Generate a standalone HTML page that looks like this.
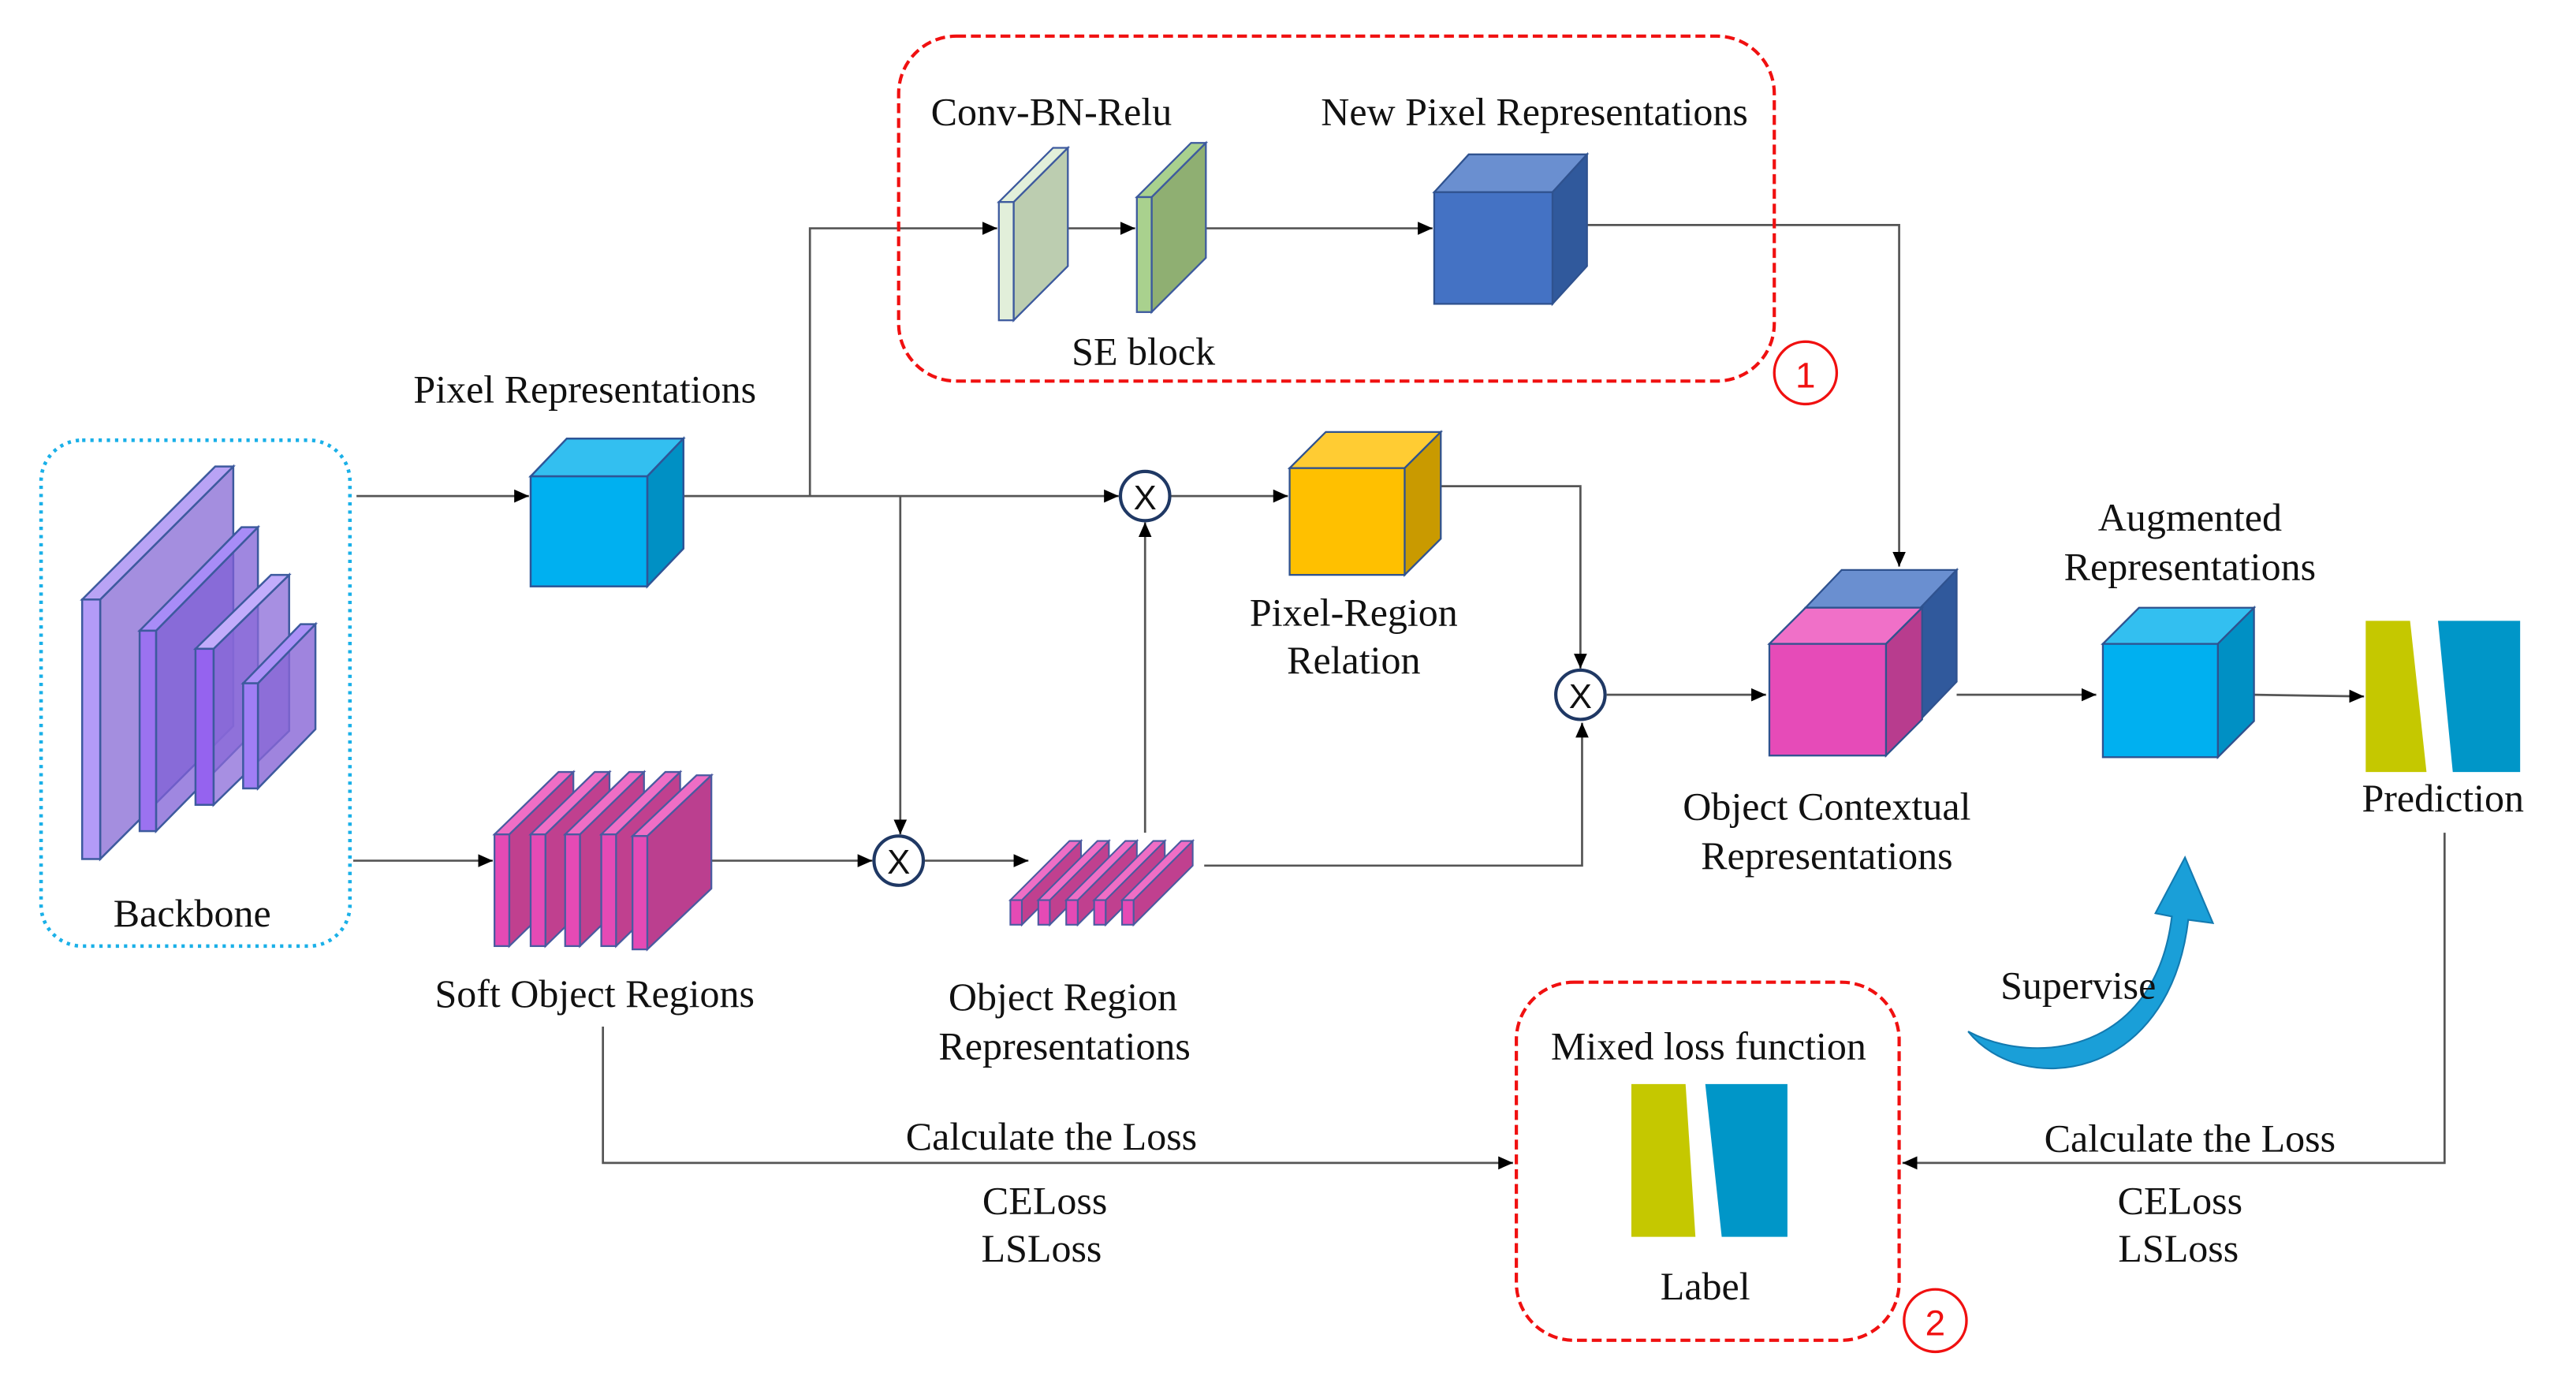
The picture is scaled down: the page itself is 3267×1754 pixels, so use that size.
<!DOCTYPE html>
<html><head><meta charset="utf-8"><style>
html,body{margin:0;padding:0;background:#fff}
svg{display:block}
.t{font-family:"Liberation Serif","DejaVu Serif",serif;font-size:24px;fill:#111}
</style></head><body>
<svg width="3267" height="1754" viewBox="0 0 1568 842" preserveAspectRatio="none" xmlns="http://www.w3.org/2000/svg">
<defs>
<marker id="a" markerWidth="10" markerHeight="10" refX="9" refY="5" orient="auto" markerUnits="userSpaceOnUse"><path d="M0,1 L9,5 L0,9 Z" fill="#000"/></marker>
</defs>
<g stroke="#555" stroke-width="1.3" fill="none">
<line x1="217" y1="302" x2="322" y2="302" marker-end="url(#a)"/>
<line x1="215" y1="524" x2="300" y2="524" marker-end="url(#a)"/>
<line x1="395" y1="302" x2="681" y2="302" marker-end="url(#a)"/>
<polyline points="493,302 493,139 607,139" marker-end="url(#a)"/>
<line x1="637" y1="139" x2="691" y2="139" marker-end="url(#a)"/>
<line x1="724" y1="139" x2="872" y2="139" marker-end="url(#a)"/>
<polyline points="966,137 1156,137 1156,345" marker-end="url(#a)"/>
<polyline points="548,302 548,508" marker-end="url(#a)"/>
<line x1="712" y1="302" x2="784" y2="302" marker-end="url(#a)"/>
<polyline points="877,296 962,296 962,407" marker-end="url(#a)"/>
<line x1="432" y1="524" x2="531" y2="524" marker-end="url(#a)"/>
<line x1="563" y1="524" x2="626" y2="524" marker-end="url(#a)"/>
<line x1="697" y1="507" x2="697" y2="318" marker-end="url(#a)"/>
<polyline points="733,527 963,527 963,440" marker-end="url(#a)"/>
<line x1="978" y1="423" x2="1075" y2="423" marker-end="url(#a)"/>
<line x1="1191" y1="423" x2="1276" y2="423" marker-end="url(#a)"/>
<line x1="1372" y1="423" x2="1439" y2="424" marker-end="url(#a)"/>
<polyline points="367,625 367,708 921,708" marker-end="url(#a)"/>
<polyline points="1488,507 1488,708 1158,708" marker-end="url(#a)"/>
</g>
<rect x="25" y="268" width="188" height="308" rx="25" fill="none" stroke="#1ab0e8" stroke-width="2.2" stroke-dasharray="2,3"/>
<rect x="547" y="22" width="533" height="210" rx="35" fill="none" stroke="#f01010" stroke-width="2" stroke-dasharray="6,3"/>
<rect x="923" y="598" width="233" height="218" rx="35" fill="none" stroke="#f01010" stroke-width="2" stroke-dasharray="6,3"/>
<circle cx="1099" cy="227" r="19" fill="none" stroke="#f01010" stroke-width="1.6"/>
<text x="1099" y="236" text-anchor="middle" font-family="Liberation Sans, sans-serif" font-size="22" fill="#f01010">1</text>
<circle cx="1178" cy="804" r="19" fill="none" stroke="#f01010" stroke-width="1.6"/>
<text x="1178" y="813" text-anchor="middle" font-family="Liberation Sans, sans-serif" font-size="22" fill="#f01010">2</text>
<g stroke="#3d5a9e" stroke-width="1.2">
<path d="M61,365 L142,284 L142,442 L61,523Z" fill="#9a82dc" fill-opacity="0.9"/>
<path d="M50,365 L131,284 L142,284 L61,365Z" fill="#b9a3f5"/>
<rect x="50" y="365" width="11" height="158" fill="#b39bf7"/>
<path d="M95,384 L157,321 L157,443 L95,506Z" fill="#7f5fd6" fill-opacity="0.75"/>
<path d="M85,384 L147,321 L157,321 L95,384Z" fill="#a88cf7"/>
<rect x="85" y="384" width="10" height="122" fill="#9b72f0"/>
<path d="M130,395 L176,350 L176,445 L130,490Z" fill="#8a6ad8" fill-opacity="0.75"/>
<path d="M119,395 L165,350 L176,350 L130,395Z" fill="#c2acfb"/>
<rect x="119" y="395" width="11" height="95" fill="#9563ef"/>
<path d="M157,416 L192,380 L192,444 L157,480Z" fill="#8765d6" fill-opacity="0.8"/>
<path d="M148,416 L183,380 L192,380 L157,416Z" fill="#ab90f7"/>
<rect x="148" y="416" width="9" height="64" fill="#a07ef5"/>
</g>
<g stroke="#2e5597" stroke-width="1.2">
<path d="M323,290 L345,267 L416,267 L394,290Z" fill="#33bff0"/>
<path d="M394,290 L416,267 L416,334 L394,357Z" fill="#0090c4"/>
<rect x="323" y="290" width="71" height="67" fill="#00b0f0"/>
</g>
<g stroke="#4a5aa0" stroke-width="1.1">
<g id="sp"><path d="M310,508 L349,470 L349,538 L310,576Z" fill="#c0408f"/><path d="M301,508 L340,470 L349,470 L310,508Z" fill="#ef6ec5"/><rect x="301" y="508" width="9" height="68" fill="#e54ab5"/></g>
<use href="#sp" x="22"/><use href="#sp" x="43"/><use href="#sp" x="65"/>
<path d="M394,509 L433,472 L433,541 L394,578Z" fill="#bb3f8f"/><path d="M385,509 L424,472 L433,472 L394,509Z" fill="#ef6ec5"/><rect x="385" y="509" width="9" height="69" fill="#e54ab5"/>
</g>
<g stroke="#3d5a9e" stroke-width="1.1">
<path d="M617,123 L650,90 L650,162 L617,195Z" fill="#bccdb0"/>
<path d="M608,123 L641,90 L650,90 L617,123Z" fill="#e2efda"/>
<rect x="608" y="123" width="9" height="72" fill="#e2efda"/>
<path d="M701,120 L734,87 L734,157 L701,190Z" fill="#8faf72"/>
<path d="M692,120 L725,87 L734,87 L701,120Z" fill="#a9d18e"/>
<rect x="692" y="120" width="9" height="70" fill="#a9d18e"/>
</g>
<g stroke="#2f528f" stroke-width="1.1">
<path d="M873,117 L894,94 L966,94 L945,117Z" fill="#6a8fd0"/>
<path d="M945,117 L966,94 L966,162 L945,185Z" fill="#30599c"/>
<rect x="873" y="117" width="72" height="68" fill="#4472c4"/>
<path d="M785,285 L807,263 L877,263 L855,285Z" fill="#ffcc33"/>
<path d="M855,285 L877,263 L877,328 L855,350Z" fill="#c99a00"/>
<rect x="785" y="285" width="70" height="65" fill="#ffc000"/>
<path d="M1099,370 L1121,347 L1191,347 L1169,370Z" fill="#6a8fd0"/>
<path d="M1169,370 L1191,347 L1191,415 L1169,438Z" fill="#30599c"/>
<rect x="1099" y="370" width="70" height="68" fill="#4472c4"/>
<path d="M1077,392 L1099,370 L1170,370 L1148,392Z" fill="#f070c8"/>
<path d="M1148,392 L1170,370 L1170,438 L1148,460Z" fill="#b83c8e"/>
<rect x="1077" y="392" width="71" height="68" fill="#e64bb8"/>
<path d="M1280,392 L1302,370 L1372,370 L1350,392Z" fill="#33bff0"/>
<path d="M1350,392 L1372,370 L1372,439 L1350,461Z" fill="#0090c4"/>
<rect x="1280" y="392" width="70" height="69" fill="#00b0f0"/>
</g>
<g stroke="#4a5aa0" stroke-width="1">
<g id="op"><path d="M622,548 L658,512 L658,527 L622,563Z" fill="#c0408f"/><path d="M615,548 L651,512 L658,512 L622,548Z" fill="#ef6ec5"/><rect x="615" y="548" width="7" height="15" fill="#e54ab5"/></g>
<use href="#op" x="17"/><use href="#op" x="34"/><use href="#op" x="51"/><use href="#op" x="68"/>
</g>
<path d="M1440,378 L1467,378 L1477,470 L1440,470Z" fill="#c5c800"/>
<path d="M1484,378 L1534,378 L1534,470 L1493,470Z" fill="#0096c8"/>
<path d="M993,660 L1026,660 L1032,753 L993,753Z" fill="#c5c800"/>
<path d="M1038,660 L1088,660 L1088,753 L1048,753Z" fill="#0096c8"/>
<g fill="#fff" stroke="#1f3864" stroke-width="2">
<circle cx="697" cy="302" r="15"/><circle cx="547" cy="524" r="15"/><circle cx="962" cy="423" r="15"/>
</g>
<g text-anchor="middle" font-family="Liberation Sans, sans-serif" font-size="21" fill="#111">
<text x="697" y="310">X</text>
<text x="547" y="532">X</text>
<text x="962" y="431">X</text>
</g>
<path d="M1198,628 C1230,668 1320,660 1332,560 L1347,562 L1330,522 L1312,556 L1322,558 C1312,640 1240,650 1198,628Z" fill="#1a9fd8" stroke="#137ab0" stroke-width="1"/>
<g text-anchor="middle" class="t" font-family="Liberation Serif, serif" font-size="24">
<text class="t" x="640" y="76">Conv-BN-Relu</text>
<text class="t" x="934" y="76">New Pixel Representations</text>
<text class="t" x="696" y="222">SE block</text>
<text class="t" x="356" y="245">Pixel Representations</text>
<text class="t" x="117" y="564">Backbone</text>
<text class="t" x="362" y="613">Soft Object Regions</text>
<text class="t" x="824" y="381">Pixel-Region</text>
<text class="t" x="824" y="410">Relation</text>
<text class="t" x="647" y="615">Object Region</text>
<text class="t" x="648" y="645">Representations</text>
<text class="t" x="1112" y="499">Object Contextual</text>
<text class="t" x="1112" y="529">Representations</text>
<text class="t" x="1333" y="323">Augmented</text>
<text class="t" x="1333" y="353">Representations</text>
<text class="t" x="1487" y="494">Prediction</text>
<text class="t" x="1265" y="608">Supervise</text>
<text class="t" x="1040" y="645">Mixed loss function</text>
<text class="t" x="1038" y="791">Label</text>
<text class="t" x="640" y="700">Calculate the Loss</text>
<text class="t" x="636" y="739">CELoss</text>
<text class="t" x="634" y="768">LSLoss</text>
<text class="t" x="1333" y="701">Calculate the Loss</text>
<text class="t" x="1327" y="739">CELoss</text>
<text class="t" x="1326" y="768">LSLoss</text>
</g>
</svg>
</body></html>
